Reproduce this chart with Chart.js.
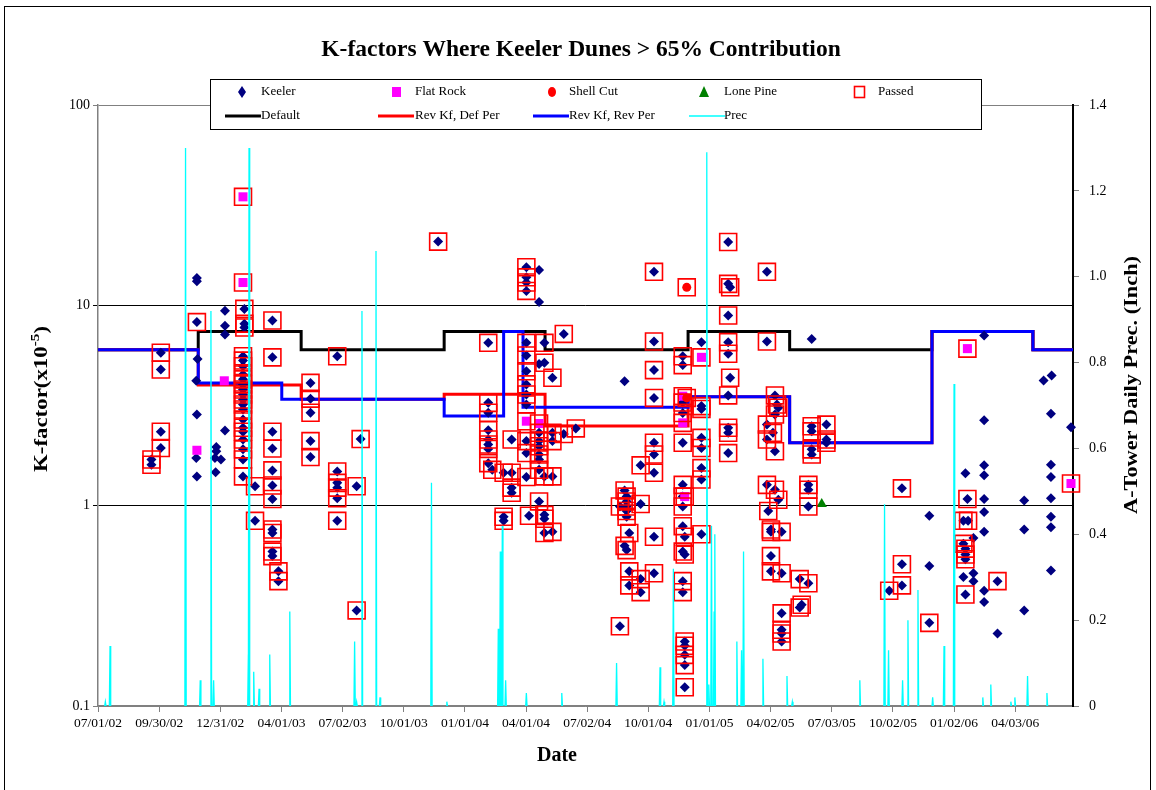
<!DOCTYPE html>
<html>
<head>
<meta charset="utf-8">
<script src="https://cdn.jsdelivr.net/npm/chart.js@4.4.0/dist/chart.umd.min.js"></script>
<style>
  html, body { margin: 0; padding: 0; background: #fff; }
  #wrap { position: relative; width: 1156px; height: 790px; }
</style>
</head>
<body>
<div id="wrap"><canvas id="kChart" width="1156" height="790"></canvas></div>
<script>
// x values are days after 07/01/02, y values are K-factor (x10-5)
var keeler = [
  [80,1.70],[80,1.60],[94,5.8],[94,4.78],[94,2.34],[94,1.94],[148,8.25],
  [219,9.6],[219,8.1],[219,7.75],
  [217,5.57],[217,5.3],[217,4.97],[217,4.52],[217,4.27],[217,4.03],[217,3.8],[217,3.59],[217,3.39],
  [217,3.2],[217,3.02],[217,2.69],[217,2.45],[217,2.34],[217,2.14],[217,1.91],[217,1.70],[217,1.40],
  [261,8.4],[261,5.5],[261,2.34],[261,1.93],[261,1.50],[261,1.26],[261,1.08],
  [235,1.25],[235,0.84],[261,0.76],[261,0.73],[261,0.59],[261,0.56],[270,0.47],[270,0.42],
  [148,13.7],[148,13.2],[190,9.4],[190,7.9],[190,7.16],[149,5.4],[147,4.2],[148,2.85],[190,2.37],
  [177,1.96],[177,1.87],[184,1.70],[175,1.73],[176,1.47],[148,1.40],[147,1.73],
  [318,4.1],[318,3.42],[318,2.91],[318,2.10],[318,1.75],[358,5.57],[358,1.48],[358,1.30],[358,1.23],
  [358,1.09],[358,0.84],[393,2.15],[387,1.25],[387,0.30],[509,20.8],
  [584,6.5],[584,3.26],[584,2.91],[584,2.38],[584,2.14],[584,2.02],[584,1.92],[584,1.63],[590,1.51],
  [641,15.5],[641,13.8],[641,13.0],[641,11.8],[641,6.5],[641,5.62],[641,4.69],[641,4.03],[641,3.59],[641,3.2],
  [668,6.5],[668,5.17],[680,4.35],[697,7.2],[715,2.43],[697,2.28],[680,2.31],[619,2.14],[641,2.10],[641,1.83],
  [660,2.31],[660,2.10],[660,1.98],[660,1.80],[660,1.70],[660,1.51],[680,2.10],[680,1.40],[668,1.40],[641,1.39],
  [607,1.46],[619,1.46],[619,1.23],[619,1.16],[660,1.05],[645,0.89],[668,0.90],[668,0.86],[668,0.73],[680,0.74],
  [607,0.88],[607,0.84],[660,15.0],[660,10.4],[788,4.18],[660,5.1],
  [832,14.7],[832,6.6],[832,4.75],[832,3.45],[832,2.06],[832,1.80],[832,1.46],[812,1.59],
  [875,5.57],[875,5.03],[875,3.27],[875,2.9],[875,2.06],[875,1.27],[875,1.11],[875,0.99],[875,0.79],[878,0.70],
  [875,0.59],[878,0.57],[875,0.42],[875,0.37],[878,0.21],[878,0.20],[878,0.18],[878,0.16],[878,0.124],
  [788,1.19],[791,1.11],[791,1.05],[791,0.99],[791,0.94],[791,0.88],[781,0.99],[812,1.02],[795,0.73],[832,0.70],
  [788,0.63],[791,0.60],[795,0.47],[795,0.40],[812,0.43],[812,0.37],[832,0.46],[781,0.25],
  [943,20.7],[1001,14.7],[943,12.8],[946,12.3],[943,8.9],[943,6.55],[1001,6.6],[943,5.73],[946,4.35],[943,3.55],
  [1013,3.55],[903,3.14],[1016,3.2],[903,3.04],[943,2.45],[943,2.31],[943,1.83],[903,2.18],[903,1.94],[903,1.54],
  [903,1.35],[903,0.72],[1018,3.08],[1013,2.85],[1001,2.54],[1010,2.31],[1001,2.14],[1013,1.87],[1001,1.27],
  [1013,1.20],[1018,1.07],[1003,0.94],[1007,0.76],[1023,0.74],[1007,0.74],[1007,0.56],[1007,0.47],[1023,0.46],
  [1050,0.43],[1063,0.41],[1050,0.31],[1053,0.32],[1023,0.29],[1023,0.24],[1023,0.23],[1023,0.21],
  [1068,2.49],[1068,2.35],[1068,1.91],[1068,1.80],[1090,2.54],[1090,2.14],[1090,2.06],[1063,1.27],[1063,1.20],[1063,0.99],
  [903,6.55],[1068,6.8],
  [1203,1.22],[1301,1.08],[1295,0.84],[1302,0.84],[1295,0.645],[1298,0.61],[1298,0.57],[1298,0.54],[1203,0.51],
  [1203,0.40],[1184,0.376],[1346,0.42],[1298,0.36],[1244,0.26],
  [1326,7.08],[1415,4.22],[1427,4.47],[1326,2.67],[1426,2.88],[1456,2.46],[1298,1.45],[1326,1.59],[1326,1.42],
  [1426,1.60],[1426,1.39],[1326,1.08],[1386,1.06],[1426,1.09],[1244,0.89],[1326,0.93],[1326,0.74],[1386,0.76],
  [1426,0.88],[1426,0.78],[1310,0.69],[1244,0.50],[1295,0.44],[1310,0.46],[1310,0.42],[1326,0.376],[1326,0.33],
  [1426,0.475],[1386,0.30],[1346,0.23]
];
var flatRock = [[217,34.8],[217,13.0],[189,4.2],[148,1.89],[641,2.64],[660,2.57],[875,2.59],[875,3.52],
  [878,1.11],[903,5.5],[1301,6.08],[1456,1.29]];
var shellCut = [[881,12.3],[881,3.45]];
var lonePine = [[1083,1.02]];
var passed = [
  [80,1.70],[80,1.60],[94,5.8],[94,4.78],[94,2.34],[94,1.94],[148,8.25],
  [219,9.6],[219,8.1],[219,7.75],
  [217,5.57],[217,5.3],[217,4.97],[217,4.52],[217,4.27],[217,4.03],[217,3.8],[217,3.59],[217,3.39],
  [217,3.2],[217,3.02],[217,2.69],[217,2.45],[217,2.34],[217,2.14],[217,1.91],[217,1.70],[217,1.40],
  [261,8.4],[261,5.5],[261,2.34],[261,1.93],[261,1.50],[261,1.26],[261,1.08],
  [235,1.25],[235,0.84],[261,0.76],[261,0.73],[261,0.59],[261,0.56],[270,0.47],[270,0.42],
  [318,4.1],[318,3.42],[318,2.91],[318,2.10],[318,1.75],[358,5.57],[358,1.48],[358,1.30],[358,1.23],
  [358,1.09],[358,0.84],[393,2.15],[387,1.25],[387,0.30],[509,20.8],
  [584,6.5],[584,3.26],[584,2.91],[584,2.38],[584,2.14],[584,2.02],[584,1.92],[584,1.63],[590,1.51],
  [641,15.5],[641,13.8],[641,13.0],[641,11.8],[641,6.5],[641,5.62],[641,4.69],[641,4.03],[641,3.59],[641,3.2],
  [668,6.5],[668,5.17],[680,4.35],[697,7.2],[715,2.43],[697,2.28],[680,2.31],[619,2.14],[641,2.10],[641,1.83],
  [660,2.31],[660,2.10],[660,1.98],[660,1.80],[660,1.70],[660,1.51],[680,2.10],[680,1.40],[668,1.40],[641,1.39],
  [607,1.46],[619,1.46],[619,1.23],[619,1.16],[660,1.05],[645,0.89],[668,0.90],[668,0.86],[668,0.73],[680,0.74],
  [607,0.88],[607,0.84],
  [832,14.7],[832,6.6],[832,4.75],[832,3.45],[832,2.06],[832,1.80],[832,1.46],[812,1.59],
  [875,5.57],[875,5.03],[875,3.27],[875,2.9],[875,2.06],[875,1.27],[875,1.11],[875,0.99],[875,0.79],[878,0.70],
  [875,0.59],[878,0.57],[875,0.42],[875,0.37],[878,0.21],[878,0.20],[878,0.18],[878,0.16],[878,0.124],
  [788,1.19],[791,1.11],[791,1.05],[791,0.99],[791,0.94],[791,0.88],[781,0.99],[812,1.02],[795,0.73],[832,0.70],
  [788,0.63],[791,0.60],[795,0.47],[795,0.40],[812,0.43],[812,0.37],[832,0.46],[781,0.25],
  [943,20.7],[1001,14.7],[943,12.8],[946,12.3],[943,8.9],[943,6.55],[1001,6.6],[943,5.73],[946,4.35],[943,3.55],
  [1013,3.55],[903,3.14],[1016,3.2],[903,3.04],[943,2.45],[943,2.31],[943,1.83],[903,2.18],[903,1.94],[903,1.54],
  [903,1.35],[903,0.72],[1018,3.08],[1013,2.85],[1001,2.54],[1010,2.31],[1001,2.14],[1013,1.87],[1001,1.27],
  [1013,1.20],[1018,1.07],[1003,0.94],[1007,0.76],[1023,0.74],[1007,0.74],[1007,0.56],[1007,0.47],[1023,0.46],
  [1050,0.43],[1063,0.41],[1050,0.31],[1053,0.32],[1023,0.29],[1023,0.24],[1023,0.23],[1023,0.21],
  [1068,2.49],[1068,2.35],[1068,1.91],[1068,1.80],[1090,2.54],[1090,2.14],[1090,2.06],[1063,1.27],[1063,1.20],[1063,0.99],
  [1203,1.22],[1301,1.08],[1295,0.84],[1302,0.84],[1295,0.645],[1298,0.61],[1298,0.57],[1298,0.54],[1203,0.51],
  [1203,0.40],[1184,0.376],[1346,0.42],[1298,0.36],[1244,0.26],
  [217,34.8],[217,13.0],[641,2.64],[660,2.57],[875,2.59],[875,3.52],[878,1.11],[903,5.5],[1301,6.08],[1456,1.29],
  [881,12.3],[881,3.45]
];

// step lines: [start day, K-factor]
var defaultKf = [[0,6.0],[150,7.4],[304,6.0],[518,7.4],[669,6.0],[883,7.4],[1035,6.0],[1248,7.4],[1399,6.0],[1459,6.0]];
var revKfDefPer = [[0,6.0],[150,4.0],[304,3.4],[518,3.6],[669,2.5],[883,3.5],[1035,2.06],[1248,7.4],[1399,6.0],[1459,6.0]];
var revKfRevPer = [[0,6.0],[150,4.1],[275,3.4],[518,2.8],[607,7.4],[636,3.1],[883,3.5],[1035,2.06],[1248,7.4],[1399,6.0],[1459,6.0]];

// A-Tower daily precipitation, rain days only: [day, inches]
var prec = [
  [11,0.01],[18,0.14],[131,1.30],[153,0.06],[169,0.92],[173,0.06],[225,0.12],[226,1.30],[233,0.08],[241,0.04],
  [257,0.12],[287,0.22],[384,0.15],[387,0.01],[395,0.92],[416,1.06],[422,0.02],[499,0.52],[522,0.01],[599,0.18],
  [602,0.36],[605,0.42],[610,0.06],[641,0.03],[694,0.03],[776,0.10],[841,0.09],[847,0.01],[861,0.32],[911,1.29],
  [914,0.05],[918,0.42],[922,0.22],[923,0.40],[956,0.15],[963,0.13],[966,0.36],[995,0.11],[1031,0.07],[1039,0.01],
  [1140,0.06],[1177,0.47],[1183,0.13],[1204,0.06],[1212,0.20],[1227,0.27],[1249,0.02],[1266,0.14],[1281,0.75],
  [1324,0.02],[1336,0.05],[1366,0.01],[1372,0.02],[1391,0.07],[1420,0.03]
];

var xTickStep = 91.5;
var xTickCount = 16;
var yTicks = [0.1, 1, 10, 100];

var FONT = '"Liberation Serif", "Times New Roman", serif';
var DAY0 = Date.UTC(2002, 6, 1);

function fmtDate(days) {
  var d = new Date(DAY0 + Math.floor(days + 1e-6) * 86400000);
  var mm = ('0' + (d.getUTCMonth() + 1)).slice(-2);
  var dd = ('0' + d.getUTCDate()).slice(-2);
  var yy = ('0' + (d.getUTCFullYear() % 100)).slice(-2);
  return mm + '/' + dd + '/' + yy;
}

function pts(arr) {
  return arr.map(function (p) { return {x: p[0], y: p[1]}; });
}

// each rain day drawn as a thin spike rising from the zero line
var precLine = [];
prec.forEach(function (p) {
  precLine.push({x: p[0] - 1, y: 0});
  precLine.push({x: p[0], y: p[1]});
  precLine.push({x: p[0] + 1, y: 0});
  precLine.push({x: p[0] + 1, y: null});
});

var framePlugin = {
  id: 'frame',
  beforeDraw: function (chart) {
    var ctx = chart.ctx;
    ctx.save();
    ctx.fillStyle = '#fff';
    ctx.fillRect(0, 0, chart.width, chart.height);
    ctx.strokeStyle = '#000';
    ctx.lineWidth = 1;
    ctx.strokeRect(4.5, 6.5, 1146, 800);
    ctx.restore();
  }
};

// rotated title stretched along its run to the reference length
function vTitle(ctx, parts, cx, cy, len) {
  var total = 0;
  parts.forEach(function (p) { ctx.font = p.font; p.w = ctx.measureText(p.text).width; total += p.w; });
  ctx.save();
  ctx.translate(cx, cy);
  ctx.rotate(-Math.PI / 2);
  ctx.scale(len / total, 1);
  ctx.textAlign = 'left';
  ctx.textBaseline = 'middle';
  var x = -total / 2;
  parts.forEach(function (p) {
    ctx.font = p.font;
    ctx.fillText(p.text, x, p.dy || 0);
    x += p.w;
  });
  ctx.restore();
}

var titlePlugin = {
  id: 'titles',
  afterDraw: function (chart) {
    var ctx = chart.ctx;
    ctx.save();
    ctx.fillStyle = '#000';
    ctx.textAlign = 'center';
    ctx.textBaseline = 'middle';
    ctx.font = 'bold 23.5px ' + FONT;
    ctx.fillText('K-factors Where Keeler Dunes > 65% Contribution', 581, 50);
    ctx.font = 'bold 20px ' + FONT;
    ctx.fillText('Date', 557, 756);

    vTitle(ctx, [{text: 'A-Tower Daily Prec. (Inch)', font: 'bold 18px ' + FONT}], 1132, 385, 258);
    vTitle(ctx, [
      {text: 'K-factor(x10', font: 'bold 18px ' + FONT},
      {text: '-5', font: 'bold 12px ' + FONT, dy: -6},
      {text: ')', font: 'bold 18px ' + FONT}
    ], 42, 399, 146);
    ctx.restore();
  }
};

var legendPlugin = {
  id: 'boxLegend',
  afterDraw: function (chart) {
    var ctx = chart.ctx;
    ctx.save();
    ctx.fillStyle = '#fff';
    ctx.fillRect(210, 79, 771, 50);
    ctx.strokeStyle = '#000';
    ctx.lineWidth = 1;
    ctx.strokeRect(210.5, 79.5, 771, 50);

    var r1 = 92, r2 = 116;
    ctx.font = '13px ' + FONT;
    ctx.textAlign = 'left';
    ctx.textBaseline = 'middle';
    ctx.fillStyle = '#000';
    ctx.fillText('Keeler', 261, r1);
    ctx.fillText('Flat Rock', 415, r1);
    ctx.fillText('Shell Cut', 569, r1);
    ctx.fillText('Lone Pine', 724, r1);
    ctx.fillText('Passed', 878, r1);
    ctx.fillText('Default', 261, r2);
    ctx.fillText('Rev Kf, Def Per', 415, r2);
    ctx.fillText('Rev Kf, Rev Per', 569, r2);
    ctx.fillText('Prec', 724, r2);

    // markers
    ctx.fillStyle = '#000080';
    ctx.beginPath();
    ctx.moveTo(242, r1 - 6); ctx.lineTo(246, r1); ctx.lineTo(242, r1 + 6); ctx.lineTo(238, r1);
    ctx.closePath(); ctx.fill();
    ctx.fillStyle = '#ff00ff';
    ctx.fillRect(392, r1 - 5, 9, 10);
    ctx.fillStyle = '#ff0000';
    ctx.beginPath(); ctx.ellipse(552, r1, 4, 5, 0, 0, Math.PI * 2); ctx.fill();
    ctx.fillStyle = '#008000';
    ctx.beginPath();
    ctx.moveTo(704, r1 - 6); ctx.lineTo(709, r1 + 5); ctx.lineTo(699, r1 + 5);
    ctx.closePath(); ctx.fill();
    ctx.strokeStyle = '#ff0000';
    ctx.lineWidth = 1.6;
    ctx.strokeRect(854.5, r1 - 5.5, 10, 11);

    // line swatches
    var sw = [[225, '#000000', 3], [378, '#ff0000', 3], [533, '#0000ff', 3], [689, '#00ffff', 1.5]];
    sw.forEach(function (s) {
      ctx.strokeStyle = s[1];
      ctx.lineWidth = s[2];
      ctx.beginPath();
      ctx.moveTo(s[0], r2);
      ctx.lineTo(s[0] + 36, r2);
      ctx.stroke();
    });
    ctx.restore();
  }
};

new Chart(document.getElementById('kChart'), {
  type: 'scatter',
  data: {
    datasets: [
      {
        label: 'Prec', type: 'line', data: precLine, yAxisID: 'y2',
        borderColor: '#00ffff', borderWidth: 1.3, pointRadius: 0, spanGaps: false, order: 0
      },
      {
        label: 'Passed', data: pts(passed), pointStyle: 'rect', pointRadius: 12, clip: 14,
        backgroundColor: 'rgba(0,0,0,0)', borderColor: '#ff0000', borderWidth: 1.6, order: 1
      },
      {
        label: 'Shell Cut', data: pts(shellCut), pointStyle: 'circle', pointRadius: 4.5, clip: 8,
        backgroundColor: '#ff0000', borderWidth: 0, order: 2
      },
      {
        label: 'Lone Pine', data: pts(lonePine), pointStyle: 'triangle', pointRadius: 6, clip: 8,
        backgroundColor: '#008000', borderWidth: 0, order: 2
      },
      {
        label: 'Flat Rock', data: pts(flatRock), pointStyle: 'rect', pointRadius: 6.4, clip: 8,
        backgroundColor: '#ff00ff', borderWidth: 0, order: 3
      },
      {
        label: 'Keeler', data: pts(keeler), pointStyle: 'rectRot', pointRadius: 5, clip: 8,
        backgroundColor: '#000080', borderWidth: 0, order: 4
      },
      {
        label: 'Rev Kf, Rev Per', type: 'line', data: pts(revKfRevPer), stepped: true,
        borderColor: '#0000ff', borderWidth: 3, pointRadius: 0, order: 5
      },
      {
        label: 'Rev Kf, Def Per', type: 'line', data: pts(revKfDefPer), stepped: true,
        borderColor: '#ff0000', borderWidth: 3, pointRadius: 0, order: 6
      },
      {
        label: 'Default', type: 'line', data: pts(defaultKf), stepped: true,
        borderColor: '#000000', borderWidth: 3, pointRadius: 0, order: 7
      }
    ]
  },
  options: {
    responsive: false,
    animation: false,
    devicePixelRatio: 1,
    events: [],
    layout: { padding: { top: 105, left: 0, right: 0, bottom: 0 } },
    plugins: {
      legend: { display: false },
      tooltip: { enabled: false },
      title: { display: false }
    },
    scales: {
      x: {
        type: 'linear',
        position: 'bottom',
        min: 0,
        max: 1459,
        afterFit: function (s) { s.height = 84; },
        afterBuildTicks: function (s) {
          var t = [];
          for (var i = 0; i < xTickCount; i++) t.push({value: i * xTickStep});
          s.ticks = t;
        },
        ticks: {
          autoSkip: false, maxRotation: 0, padding: 3, color: '#000',
          font: { family: FONT, size: 13.5 },
          callback: function (v) { return fmtDate(v); }
        },
        grid: { drawOnChartArea: false, tickLength: 6, color: '#808080' },
        border: { color: '#808080', width: 1.5 }
      },
      y: {
        type: 'logarithmic',
        position: 'left',
        min: 0.1,
        max: 100,
        afterFit: function (s) { s.width = 98; },
        afterBuildTicks: function (s) {
          s.ticks = yTicks.map(function (v) { return {value: v, major: true}; });
        },
        ticks: {
          color: '#000', padding: 3,
          font: { family: FONT, size: 14 },
          callback: function (v) { return v < 1 ? '0.1' : String(v); }
        },
        grid: {
          tickLength: 5,
          color: function (c) {
            var v = c.tick ? c.tick.value : 0;
            return (v === 1 || v === 10) ? '#000000' : '#808080';
          },
          lineWidth: 1
        },
        border: { color: '#808080', width: 1.5 }
      },
      y2: {
        type: 'linear',
        position: 'right',
        min: 0,
        max: 1.4,
        afterFit: function (s) { s.width = 83; },
        ticks: {
          stepSize: 0.2, color: '#000', padding: 10,
          font: { family: FONT, size: 14 },
          callback: function (v) { return v === 0 ? '0' : v.toFixed(1); }
        },
        grid: { drawOnChartArea: false, tickLength: 6, color: '#808080' },
        border: { color: '#000', width: 2 }
      }
    }
  },
  plugins: [framePlugin, titlePlugin, legendPlugin]
});
</script>
</body>
</html>
